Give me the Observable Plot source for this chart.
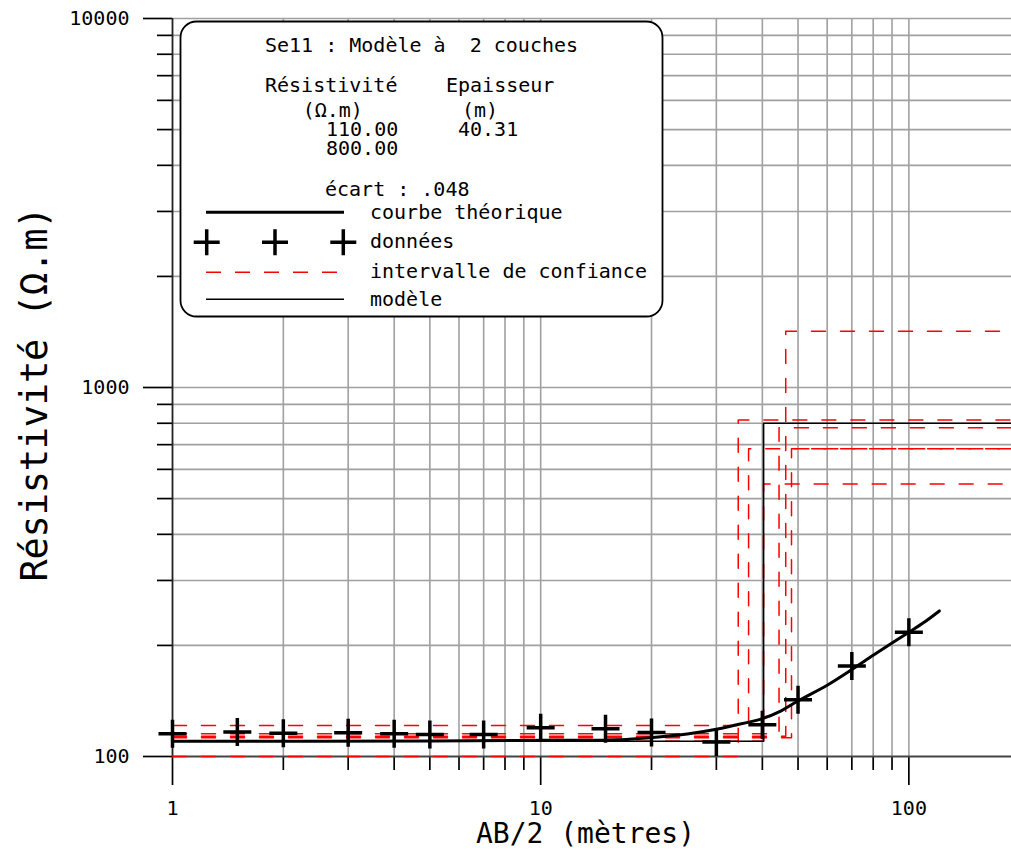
<!DOCTYPE html>
<html><head><meta charset="utf-8">
<script src="https://cdn.jsdelivr.net/npm/d3@7"></script>
<script src="https://cdn.jsdelivr.net/npm/@observablehq/plot@0.6"></script>
<style>body{margin:0;background:#fff} svg{display:block}</style>
</head><body><div id="chart"></div>
<script>
// ---- data ----
const obsAB2 = [1, 1.5, 2, 3, 4, 5, 7, 10, 15, 20, 30, 40, 50, 70, 100];
const obsRho = [115.2, 116.6, 115.7, 116, 115.2, 114.8, 114.7, 119.6, 118.9, 116.2, 109.5, 122, 142.5, 176, 217];

const curveAB2 = [1, 5, 10, 16.5, 20, 25, 30, 33, 40, 45, 50, 60, 70, 80, 90, 100, 110, 121];
const curveRho = [110, 110.2, 110.6, 111, 112.5, 115, 118.5, 121, 126.7, 133, 141.5, 156, 172, 188, 203, 217, 231, 248];

const modelRho = [110, 800];
const modelThick = [40.31];
const ecart = ".048";

const ciRho1  = [100, 121.3, 115.2, 113.5, 112.4, 110];
const ciThick = [34.4, 36.7, 44.4, 46.3, 48.0, 40.3];
const ciRho2  = [817, 682, 778, 1421, 682, 548];

const xDomain = [1, 190];
const yDomain = [100, 10000];
const xMajor = [1, 10, 100];
const xMinor = [2, 3, 4, 5, 6, 7, 8, 9, 20, 30, 40, 50, 60, 70, 80, 90];
const yMajor = [100, 1000, 10000];
const yMinor = [200, 300, 400, 500, 600, 700, 800, 900, 2000, 3000, 4000, 5000, 6000, 7000, 8000, 9000];

const title = "Se11 : Modèle à  2 couches";
const xLabel = "AB/2 (mètres)";
const yLabel = "Résistivité (Ω.m)";
const legendLabels = ["courbe théorique", "données", "intervalle de confiance", "modèle"];

// ---- build tables ----
const obs = obsAB2.map((x, i) => ({x, y: obsRho[i]}));
const curve = curveAB2.map((x, i) => ({x, y: curveRho[i]}));
const model = [
  {x: xDomain[0], y: modelRho[0]}, {x: modelThick[0], y: modelRho[0]},
  {x: modelThick[0], y: modelRho[1]}, {x: xDomain[1], y: modelRho[1]}
];
const ci = ciRho1.flatMap((r1, i) => [
  {k: i, x: xDomain[0], y: r1}, {k: i, x: ciThick[i], y: r1},
  {k: i, x: ciThick[i], y: ciRho2[i]}, {k: i, x: xDomain[1], y: ciRho2[i]}
]);

const cross = {draw(ctx, size) {
  const r = Math.sqrt(size / Math.PI);
  ctx.moveTo(-r, 0); ctx.lineTo(r, 0);
  ctx.moveTo(0, -r); ctx.lineTo(0, r);
}};

const gridC = "#a0a0a0";
const plot = Plot.plot({
  width: 1011, height: 850,
  marginLeft: 172, marginRight: 0, marginTop: 18, marginBottom: 94,
  x: {type: "log", domain: xDomain, axis: null},
  y: {type: "log", domain: yDomain, axis: null},
  style: {fontFamily: "DejaVu Sans Mono", fontSize: "20px", color: "#000", background: "#fff", overflow: "visible"},
  marks: [
    Plot.gridX([...xMinor, 10, 100], {stroke: gridC, strokeOpacity: 1, strokeWidth: 1.6}),
    Plot.gridY([...yMinor, 1000, 10000], {stroke: gridC, strokeOpacity: 1, strokeWidth: 1.6}),
    Plot.axisY(yMinor, {anchor: "left", tickSize: 15, tickFormat: () => "", label: null, strokeWidth: 1.7}),
    Plot.axisY(yMajor, {anchor: "left", tickSize: 29, tickPadding: 14, tickFormat: d => String(d), label: null, strokeWidth: 1.7, fontSize: 20}),
    Plot.axisX(xMinor, {anchor: "bottom", tickSize: 14, tickFormat: () => "", label: null, strokeWidth: 1.7}),
    Plot.axisX(xMajor, {anchor: "bottom", tickSize: 29, tickPadding: 15, tickFormat: d => String(d), label: null, strokeWidth: 1.7, fontSize: 20}),
    Plot.ruleX([xDomain[0]], {stroke: "#222", strokeWidth: 1.8}),
    Plot.ruleY([yDomain[0]], {stroke: "#444", strokeWidth: 1.8}),
    Plot.line(ci, {x: "x", y: "y", z: "k", stroke: "#ff0000", strokeWidth: 1.5, strokeDasharray: "14,15", curve: "linear"}),
    Plot.line(model, {x: "x", y: "y", stroke: "#000", strokeWidth: 1.6}),
    Plot.line(curve, {x: "x", y: "y", stroke: "#000", strokeWidth: 3, curve: "catmull-rom"}),
    Plot.dot(obs, {x: "x", y: "y", symbol: cross, r: 14, stroke: "#000", strokeWidth: 3.5, fill: "none"})
  ]
});

const svg = d3.select(plot);
// axis titles
svg.append("text").attr("x", 585.5).attr("y", 843).attr("text-anchor", "middle")
  .attr("font-size", 28).attr("font-family", "DejaVu Sans Mono").attr("fill", "#000").text(xLabel);
svg.append("text").attr("transform", "translate(47,394) rotate(-90)").attr("text-anchor", "middle")
  .attr("font-size", 37).attr("font-family", "DejaVu Sans Mono").attr("fill", "#000")
  .attr("textLength", 375).attr("lengthAdjust", "spacing").text(yLabel);

// legend box
const g = svg.append("g").attr("font-family", "DejaVu Sans Mono").attr("font-size", 20)
  .attr("fill", "#000").attr("text-anchor", "start").style("white-space", "pre");
g.append("rect").attr("x", 180.5).attr("y", 21.5).attr("width", 482).attr("height", 295)
  .attr("rx", 16).attr("fill", "#fff").attr("stroke", "#000").attr("stroke-width", 1.8);
const txt = (s, x, y) => g.append("text").attr("x", x).attr("y", y).attr("text-anchor", "start").attr("xml:space", "preserve").text(s);
txt(title, 265, 52);
txt("Résistivité", 265, 92);
txt("Epaisseur", 446, 92);
txt("(Ω.m)", 302.7, 117);
txt("(m)", 462, 117);
txt(modelRho[0].toFixed(2), 326, 136);
txt(modelThick[0].toFixed(2), 458, 136);
txt(modelRho[1].toFixed(2), 326, 155);
txt("écart : " + ecart, 325, 196);
const ly = [219, 248, 278, 306];
legendLabels.forEach((s, i) => txt(s, 370, ly[i]));
g.append("line").attr("x1", 206).attr("x2", 344).attr("y1", 212.3).attr("y2", 212.3).attr("stroke", "#000").attr("stroke-width", 3);
[206.7, 275, 343.3].forEach(cx => {
  g.append("path").attr("d", `M${cx-13},242.3H${cx+13}M${cx},229.3V255.3`).attr("stroke", "#000").attr("stroke-width", 3.5).attr("fill", "none");
});
g.append("line").attr("x1", 206).attr("x2", 337).attr("y1", 272.3).attr("y2", 272.3).attr("stroke", "#ff0000").attr("stroke-width", 1.5).attr("stroke-dasharray", "15,14");
g.append("line").attr("x1", 206).attr("x2", 344).attr("y1", 299.3).attr("y2", 299.3).attr("stroke", "#000").attr("stroke-width", 1.6);

document.getElementById("chart").append(plot);
</script>
</body></html>
